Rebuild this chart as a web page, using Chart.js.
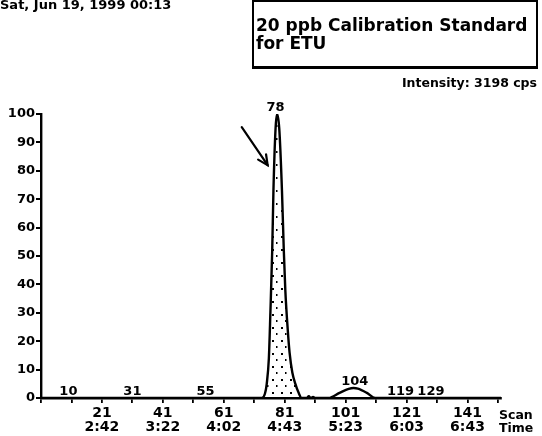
<!DOCTYPE html>
<html><head><meta charset="utf-8">
<script src="https://cdn.jsdelivr.net/npm/chart.js@4/dist/chart.umd.min.js"></script>
<style>
html,body{margin:0;padding:0;background:#fff;}
#wrap{position:relative;width:542px;height:436px;overflow:hidden;background:#fff;}
canvas{position:absolute;left:0;top:0;}
.t{position:absolute;font-family:"DejaVu Sans",sans-serif;font-weight:bold;color:#000;white-space:nowrap;}
</style></head><body>
<div id="wrap">
<canvas id="c" width="542" height="436"></canvas>
<div class="t" style="left:0;top:-2px;font-size:13px;line-height:13px;">Sat, Jun 19, 1999 00:13</div>
<div style="position:absolute;left:252px;top:0px;width:282px;height:64px;border:2px solid #000;border-bottom-width:3px;"></div>
<div class="t" style="left:256px;top:16px;font-size:17px;line-height:18px;">20 ppb Calibration Standard<br>for ETU</div>
<div class="t" style="right:5px;top:76.7px;font-size:12.5px;line-height:12.5px;">Intensity: 3198 cps</div>
<div class="t" style="left:499px;top:408.3px;font-size:12.5px;line-height:13px;">Scan<br>Time</div>
</div>
<script>
// ---- data ----
const scans     = [1, 10, 31, 55, 73.5, 74.5, 75.1, 75.8, 76.3, 76.9, 77.3, 78.0, 78.5, 79.2, 80.1, 80.7, 81.2, 82.0, 82.6, 83.5, 84.5, 85.5, 86.6, 88.2, 88.9, 89.6, 90.3, 91, 95.4, 99, 102, 103.6, 105, 108, 110.7, 152];
const intensity = [0, 0, 0, 0, 0, 1.5, 5, 14, 30, 52, 73, 95, 100, 95, 73, 52, 38, 24, 16, 9, 5, 2, 0, 0, 0.6, 0, 0.4, 0, 0, 1.8, 3.2, 3.5, 3.3, 1.8, 0, 0];
const peakLabels = ['10', '31', '55', '78', '104', '119', '129'];
const tickScans  = [1, 11, 21, 31, 41, 51, 61, 71, 81, 91, 101, 111, 121, 131, 141, 151];
const scanLabels = [21, 41, 61, 81, 101, 121, 141];
const timeLabels = ['2:42', '3:22', '4:02', '4:43', '5:23', '6:03', '6:43'];
const yTicks     = [0, 10, 20, 30, 40, 50, 60, 70, 80, 90, 100];
const mainPeakRange = [73.5, 86.6];
const arrowFrom = [66.9, 95.4];
const arrowTo   = [75.4, 82.0];

const tracePts = scans.map((s, i) => ({x: s, y: intensity[i]}));
const fillPts = tracePts.filter(p => p.x >= mainPeakRange[0] && p.x <= mainPeakRange[1]);

const canvas = document.getElementById('c');
const ctx = canvas.getContext('2d');

const pc = document.createElement('canvas');
pc.width = 9; pc.height = 13;
const px = pc.getContext('2d');
px.fillStyle = '#000';
px.fillRect(2, 2, 2, 2);
px.fillRect(6, 8, 1.5, 2);
const pattern = ctx.createPattern(pc, 'repeat');

const FAM = "'DejaVu Sans', sans-serif";

const overlay = {
  id: 'overlay',
  afterDatasetsDraw(chart) {
    const c = chart.ctx, xs = chart.scales.x, ys = chart.scales.y;
    c.save();
    c.fillStyle = '#000';
    c.font = "bold 13px " + FAM;
    c.textAlign = 'center';
    c.textBaseline = 'alphabetic';
    peakLabels.forEach(lab => {
      const s = Number(lab);
      let v = 0;
      tracePts.forEach(p => { if (Math.abs(p.x - s) <= 1 && p.y > v) v = p.y; });
      c.fillText(lab, xs.getPixelForValue(s), ys.getPixelForValue(v) - 3);
    });
    // arrow
    const x0 = xs.getPixelForValue(arrowFrom[0]), y0 = ys.getPixelForValue(arrowFrom[1]);
    const x1 = xs.getPixelForValue(arrowTo[0]),   y1 = ys.getPixelForValue(arrowTo[1]);
    c.strokeStyle = '#000'; c.lineWidth = 2.2; c.lineCap = 'round';
    c.beginPath(); c.moveTo(x0, y0); c.lineTo(x1, y1); c.stroke();
    const a = Math.atan2(y1 - y0, x1 - x0), L = 11;
    c.beginPath();
    c.moveTo(x1 - L * Math.cos(a - 0.45), y1 - L * Math.sin(a - 0.45));
    c.lineTo(x1, y1);
    c.lineTo(x1 - L * Math.cos(a + 0.45), y1 - L * Math.sin(a + 0.45));
    c.stroke();
    c.restore();
  }
};

new Chart(ctx, {
  type: 'line',
  data: { datasets: [
    { data: tracePts, borderColor: '#000', borderWidth: 2.4, fill: false, pointRadius: 0, cubicInterpolationMode: 'monotone' },
    { data: fillPts, borderWidth: 0, borderColor: 'rgba(0,0,0,0)', backgroundColor: pattern, fill: 'origin', pointRadius: 0, cubicInterpolationMode: 'monotone' }
  ]},
  options: {
    responsive: false, animation: false, devicePixelRatio: 1,
    layout: { padding: { top: 114, left: 0, right: 41, bottom: 0 } },
    plugins: { legend: { display: false }, tooltip: { enabled: false }, title: { display: false } },
    scales: {
      x: {
        type: 'linear', min: 1, max: 152,
        afterFit(s) { s.height = 38; },
        afterBuildTicks(s) { s.ticks = tickScans.map(v => ({ value: v })); },
        grid: { display: true, drawOnChartArea: false, drawTicks: true, tickLength: 5, color: '#000', lineWidth: 1.8 },
        border: { display: true, color: '#000', width: 2.4 },
        ticks: {
          autoSkip: false, maxRotation: 0, minRotation: 0, padding: 3, color: '#000',
          font: { family: FAM, size: 14, weight: 'bold', lineHeight: 1.0 },
          callback(v) { const i = scanLabels.indexOf(v); return i < 0 ? '' : [String(v), timeLabels[i]]; }
        }
      },
      y: {
        min: 0, max: 100,
        afterFit(s) { s.width = 41; },
        afterBuildTicks(s) { s.ticks = yTicks.map(v => ({ value: v })); },
        grid: { display: true, drawOnChartArea: false, drawTicks: true, tickLength: 5, color: '#000', lineWidth: 2 },
        border: { display: true, color: '#000', width: 2.4 },
        ticks: { padding: 1, color: '#000', font: { family: FAM, size: 13, weight: 'bold' } }
      }
    }
  },
  plugins: [overlay]
});
</script>
</body></html>
